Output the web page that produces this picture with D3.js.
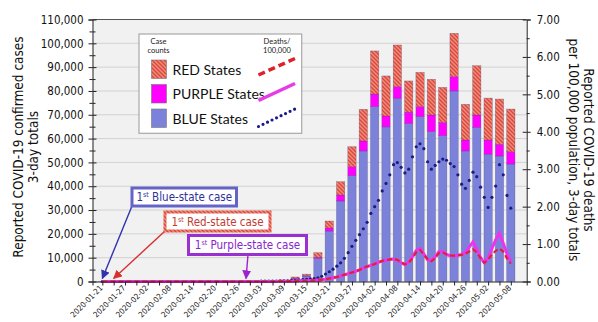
<!DOCTYPE html>
<html><head><meta charset="utf-8">
<script src="https://cdn.jsdelivr.net/npm/d3@7"></script>
<style>body{margin:0;background:#fff;} svg{display:block}</style>
</head><body><svg id="c" width="598" height="322"></svg>
<script>
// ---------- DATA ----------
const barDates = ["2020-01-21","2020-01-24","2020-01-27","2020-01-30","2020-02-02","2020-02-05","2020-02-08","2020-02-11","2020-02-14","2020-02-17","2020-02-20","2020-02-23","2020-02-26","2020-02-29","2020-03-03","2020-03-06","2020-03-09","2020-03-12","2020-03-15","2020-03-18","2020-03-21","2020-03-24","2020-03-27","2020-03-30","2020-04-02","2020-04-05","2020-04-08","2020-04-11","2020-04-14","2020-04-17","2020-04-20","2020-04-23","2020-04-26","2020-04-29","2020-05-02","2020-05-05","2020-05-08"];
const casesBlue   = [1,1,1,2,2,0,1,1,1,0,0,0,1,2,20,90,350,1200,2200,9600,21200,33800,44400,54800,73400,64900,76900,66300,69200,62900,61200,80000,54800,64600,53400,52700,49300];
const casesPurple = [0,0,0,0,0,0,0,0,0,0,0,0,0,0,0,10,50,200,300,600,1300,2500,3800,4200,5300,4600,4900,4800,4200,7000,5600,6000,4600,5300,6000,4900,5200];
const casesRed    = [0,0,1,0,0,0,0,0,0,0,0,0,0,0,5,30,150,500,600,1900,2900,5600,8400,13300,18100,16800,17500,13100,14400,15000,14700,18200,15000,20700,17600,19000,17900];

// daily deaths per 100,000 (3-day totals), 2020-01-21 .. 2020-05-08
const deathsStart = "2020-01-21";
const deathsBlue = [0,0,0,0,0,0,0,0,0,0,0,0,0,0,0,0,0,0,0,0,0,0,0,0,0,0,0,0,0,0,0,0,0,0,0,0,0,0,0,0,
 0.00,0.00,0.01,0.01,0.01,0.01,0.01,0.02,0.02,0.02,0.03,
 0.03,0.04,0.05,0.06,0.07,0.08,0.10,0.14,0.20,0.26,0.33,0.41,0.50,0.62,0.77,0.94,1.10,1.25,1.41,1.58,1.82,2.00,2.17,2.42,2.62,2.85,3.12,3.18,3.05,2.90,3.00,3.33,3.60,3.68,3.55,3.20,3.00,3.10,3.20,3.27,3.24,3.15,3.07,2.85,2.60,2.49,2.70,2.92,2.80,2.52,2.25,1.98,2.25,2.55,3.12,2.85,2.30,1.96];
const deathsRed = [0,0,0,0,0,0,0,0,0,0,0,0,0,0,0,0,0,0,0,0,0,0,0,0,0,0,0,0,0,0,0,0,0,0,0,0,0,0,0,0,
 0,0,0,0,0,0,0,0.01,0.01,0.01,0.01,0.01,0.02,0.02,0.02,0.03,
 0.03,0.04,0.05,0.06,0.08,0.10,0.12,0.15,0.18,0.21,0.24,0.27,0.31,0.36,0.40,0.43,0.47,0.51,0.55,0.57,0.59,0.60,0.58,0.52,0.46,0.50,0.62,0.78,0.84,0.72,0.60,0.54,0.62,0.76,0.78,0.72,0.70,0.69,0.70,0.71,0.74,0.80,0.86,0.78,0.62,0.50,0.58,0.72,0.82,0.88,0.80,0.62,0.48];
const deathsPurple = [0,0,0,0,0,0,0,0,0,0,0,0,0,0,0,0,0,0,0,0,0,0,0,0,0,0,0,0,0,0,0,0,0,0,0,0,0,0,0,0,
 0,0,0,0,0,0,0,0.01,0.01,0.01,0.01,0.01,0.02,0.02,0.02,0.03,
 0.03,0.04,0.05,0.06,0.08,0.10,0.12,0.15,0.18,0.21,0.24,0.27,0.31,0.36,0.40,0.43,0.47,0.51,0.55,0.57,0.59,0.60,0.57,0.50,0.45,0.52,0.66,0.83,0.88,0.74,0.58,0.56,0.66,0.80,0.80,0.72,0.69,0.68,0.70,0.72,0.78,0.92,1.06,0.86,0.64,0.50,0.62,0.88,1.12,1.29,1.02,0.74,0.54];

const xTickLabels = ["2020-01-21","2020-01-27","2020-02-02","2020-02-08","2020-02-14","2020-02-20","2020-02-26","2020-03-03","2020-03-09","2020-03-15","2020-03-21","2020-03-27","2020-04-02","2020-04-08","2020-04-14","2020-04-20","2020-04-26","2020-05-02","2020-05-08"];
const yLeftTicks = [0,10000,20000,30000,40000,50000,60000,70000,80000,90000,100000,110000];
const yRightTicks = [0,1,2,3,4,5,6,7];
const legendItems = ["RED States","PURPLE States","BLUE States"];
const firstCases = [
  {label:"Blue-state case", date:"2020-01-21"},
  {label:"Red-state case", date:"2020-01-24"},
  {label:"Purple-state case", date:"2020-02-28"}
];

// ---------- LAYOUT ----------
const svg = d3.select("#c");
const L=92.5, R=526.7, T=19.5, B=281.5;
const parse = d3.utcParse("%Y-%m-%d");
const DAY = 864e5;
const t0 = parse("2020-01-21").getTime();
const x = d3.scaleUtc().domain([new Date(t0-2.6*DAY), new Date(t0+112.2*DAY)]).range([L,R]);
const y = d3.scaleLinear().domain([0,110000]).range([B,T]);
const y2 = d3.scaleLinear().domain([0,7]).range([B,T]);
const FONT = "'DejaVu Sans Condensed','DejaVu Sans',sans-serif";

const defs = svg.append("defs");
const pat = defs.append("pattern").attr("id","hatch").attr("width",4).attr("height",4).attr("patternUnits","userSpaceOnUse");
pat.append("rect").attr("width",4).attr("height",4).attr("fill","#ea6a5c");
[[0,0],[1,1],[2,2],[3,3]].forEach(([a,b])=>pat.append("rect").attr("x",a).attr("y",b).attr("width",1).attr("height",1).attr("fill","#cf4b42"));
[[2,0],[3,1],[0,2],[1,3]].forEach(([a,b])=>pat.append("rect").attr("x",a).attr("y",b).attr("width",1).attr("height",1).attr("fill","#f28b7c"));

// plot bg
svg.append("rect").attr("x",L).attr("y",T).attr("width",R-L).attr("height",B-T).attr("fill","#f1f1f1");
svg.append("g").selectAll("line").data(yLeftTicks.filter(v=>v>0&&v<110000)).join("line")
  .attr("x1",L).attr("x2",R).attr("y1",d=>y(d)).attr("y2",d=>y(d)).attr("stroke","#d2d2d2").attr("stroke-width",1);
svg.append("line").attr("x1",L).attr("x2",R).attr("y1",T).attr("y2",T).attr("stroke","#555").attr("stroke-width",1);

// bars
const bw = 8.3;
const bars = svg.append("g");
barDates.forEach((ds,i)=>{
  const cx = x(parse(ds));
  const b = casesBlue[i], p = casesPurple[i], r = casesRed[i];
  const segs = [[0,b,"#7c82da"],[b,b+p,"#ff00ff"],[b+p,b+p+r,"url(#hatch)"]];
  segs.forEach(([a,c,col])=>{
    if (c-a <= 0) return;
    bars.append("rect").attr("x",cx-bw/2).attr("width",bw)
      .attr("y",y(c)).attr("height",y(a)-y(c)).attr("fill",col)
      .attr("stroke","rgba(70,70,110,0.55)").attr("stroke-width",0.5);
  });
});

// death lines
const dayDates = deathsBlue.map((_,i)=>new Date(parse(deathsStart).getTime()+i*DAY));
svg.append("g").selectAll("circle").data(deathsBlue).join("circle")
  .attr("cx",(d,i)=>x(dayDates[i])).attr("cy",d=>y2(d)).attr("r",1.6).attr("fill","#1b1b86");
const line = d3.line().x((d,i)=>x(dayDates[i])).y(d=>y2(d));
svg.append("path").attr("d",line(deathsPurple)).attr("fill","none").attr("stroke","#ee33ee").attr("stroke-width",3);
svg.append("path").attr("d",line(deathsRed)).attr("fill","none").attr("stroke","#e0203a").attr("stroke-width",2.2).attr("stroke-dasharray","5,3");

// axes
function styleAxis(g){ g.selectAll(".domain").attr("stroke","#222"); g.selectAll(".tick line").attr("stroke","#222"); g.selectAll("text").attr("fill","#111").style("font-family",FONT); }
const gl = svg.append("g").attr("transform",`translate(${L},0)`).call(d3.axisLeft(y).tickValues(yLeftTicks).tickFormat(d3.format(",")).tickSize(4).tickPadding(5));
gl.selectAll("text").style("font-size","11.5px"); styleAxis(gl);
svg.append("g").attr("transform",`translate(${L},0)`).call(d3.axisLeft(y).tickValues(yLeftTicks).tickFormat("").tickSize(-4)).call(styleAxis).select(".domain").remove();
svg.append("g").attr("transform",`translate(${L},0)`).call(d3.axisLeft(y).tickValues(yLeftTicks.slice(1).map(v=>v-5000)).tickFormat("").tickSize(3)).call(styleAxis).select(".domain").remove();
svg.append("g").attr("transform",`translate(${L},0)`).call(d3.axisLeft(y).tickValues(yLeftTicks.slice(1).map(v=>v-5000)).tickFormat("").tickSize(-3)).call(styleAxis).select(".domain").remove();

const gr = svg.append("g").attr("transform",`translate(${R},0)`).call(d3.axisRight(y2).tickValues(yRightTicks).tickFormat(d3.format(".2f")).tickSize(4).tickPadding(6));
gr.selectAll("text").style("font-size","11.5px"); styleAxis(gr);
svg.append("g").attr("transform",`translate(${R},0)`).call(d3.axisRight(y2).tickValues(yRightTicks).tickFormat("").tickSize(-4)).call(styleAxis).select(".domain").remove();
svg.append("g").attr("transform",`translate(${R},0)`).call(d3.axisRight(y2).tickValues(yRightTicks.slice(1).map(v=>v-0.5)).tickFormat("").tickSize(3)).call(styleAxis).select(".domain").remove();

const gx = svg.append("g").attr("transform",`translate(0,${B})`).call(d3.axisBottom(x).tickValues(barDates.map(parse)).tickFormat("").tickSize(4));
styleAxis(gx);
svg.append("g").selectAll("text").data(xTickLabels).join("text")
  .attr("transform",d=>`translate(${x(parse(d))-1},${B+5}) rotate(-45)`)
  .attr("text-anchor","end").attr("dy","0.35em")
  .style("font-family",FONT).style("font-size","8px").attr("fill","#222").text(d=>d);

// axis titles
const lt = svg.append("text").attr("transform","translate(23,147) rotate(-90)").attr("text-anchor","middle")
  .style("font-family",FONT).style("font-size","13.5px").attr("fill","#111");
lt.append("tspan").attr("x",0).attr("dy",0).text("Reported COVID-19 confirmed cases");
lt.append("tspan").attr("x",0).attr("dy","1.1em").text("3-day totals");
const rt = svg.append("text").attr("transform","translate(584,150) rotate(90)").attr("text-anchor","middle")
  .style("font-family",FONT).style("font-size","13.5px").attr("fill","#111");
rt.append("tspan").attr("x",0).attr("dy",0).text("Reported COVID-19 deaths");
rt.append("tspan").attr("x",0).attr("dy","1.1em").text("per 100,000 population, 3-day totals");

// legend
const lg = svg.append("g");
lg.append("rect").attr("x",139).attr("y",34).attr("width",162.7).attr("height",99.3).attr("fill","#fff").attr("stroke","#a8a8a8").attr("stroke-width",1.2);
const small = (tx,ty,s)=>lg.append("text").attr("x",tx).attr("y",ty).attr("text-anchor","middle").style("font-family","Lato,sans-serif").style("font-size","7.5px").attr("fill","#222").text(s);
small(158.5,44,"Case"); small(158.5,52.5,"counts"); small(277,44,"Deaths/"); small(277,52.5,"100,000");
const swFill = ["url(#hatch)","#ff00ff","#7c82da"];
legendItems.forEach((s,i)=>{
  const yy = 60 + i*24.5;
  lg.append("rect").attr("x",151.5).attr("y",yy).attr("width",15).attr("height",18.5).attr("fill",swFill[i]).attr("stroke","#777").attr("stroke-width",0.6);
  lg.append("text").attr("x",172.5).attr("y",yy+14.5).style("font-family","Lato,sans-serif").style("font-size","14px").attr("fill","#111").text(s);
});
lg.append("line").attr("x1",258.5).attr("y1",75).attr("x2",295).attr("y2",58.5).attr("stroke","#e0202a").attr("stroke-width",3.5).attr("stroke-dasharray","7,4");
lg.append("line").attr("x1",258.5).attr("y1",100.5).attr("x2",295).attr("y2",83.5).attr("stroke","#e63be6").attr("stroke-width",3.5);
lg.append("line").attr("x1",258.5).attr("y1",126.5).attr("x2",295).attr("y2",109).attr("stroke","#1b1b86").attr("stroke-width",3.2).attr("stroke-linecap","round").attr("stroke-dasharray","0,5");

// annotations
const ann = [
  {box:[132,188,104.5,18], stroke:"#6464c8", text:"#30309a", from:[132,206]},
  {box:[165,212,105,19], stroke:"url(#hatch)", text:"#c03c30", from:[165,231]},
  {box:[188.5,235.5,118,19], stroke:"#9a30d2", text:"#8a24cc", from:[248,254.5]}
];
const arrowCol = ["#3232b0","#d83030","#a020d0"];
firstCases.forEach((fc,i)=>{
  const a = ann[i];
  const tipX = x(parse(fc.date)), tipY = B-3;
  const g = svg.append("g");
  const m = defs.append("marker").attr("id","ah"+i).attr("viewBox","0 0 10 10").attr("refX",9).attr("refY",5)
    .attr("markerWidth",9).attr("markerHeight",9).attr("orient","auto").attr("markerUnits","userSpaceOnUse");
  m.append("path").attr("d","M0,0 L10,5 L0,10 z").attr("fill",arrowCol[i]);
  g.append("line").attr("x1",a.from[0]).attr("y1",a.from[1]).attr("x2",tipX).attr("y2",tipY)
    .attr("stroke",arrowCol[i]).attr("stroke-width",1.4).attr("marker-end",`url(#ah${i})`);
  g.append("rect").attr("x",a.box[0]).attr("y",a.box[1]).attr("width",a.box[2]).attr("height",a.box[3])
    .attr("fill","#fff").attr("stroke",a.stroke).attr("stroke-width",3);
  const t = g.append("text").attr("x",a.box[0]+a.box[2]/2).attr("y",a.box[1]+a.box[3]/2+4).attr("text-anchor","middle")
    .style("font-family",FONT).style("font-size","11.5px").attr("fill",a.text);
  t.append("tspan").text("1");
  t.append("tspan").attr("dy",-4).style("font-size","7px").text("st");
  t.append("tspan").attr("dy",4).text(" "+fc.label);
});
</script></body></html>
